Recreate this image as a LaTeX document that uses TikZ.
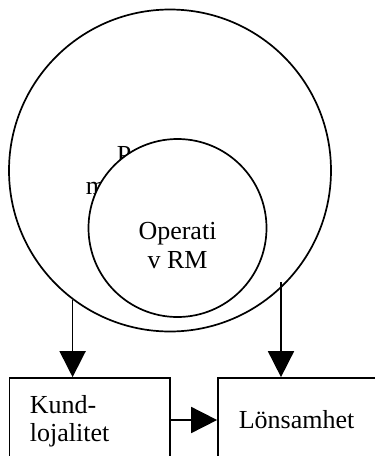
\documentclass[tikz,border=0pt]{standalone}
\usepackage{fontspec}
\setmainfont{Liberation Serif}
\usetikzlibrary{arrows.meta}
\begin{document}
\begin{tikzpicture}[x=1pt,y=-1pt,line width=1.7pt,
  txt/.style={font=\fontsize{26}{30}\selectfont,inner sep=0pt},
  ring/.style={draw,circle,inner sep=0pt},
  boxnode/.style={draw,rectangle,inner sep=0pt,minimum height=100pt},
  flow/.style={-{Triangle[length=26pt,width=26pt]}}]
\clip (0,0) rectangle (375,456);
% outer circle and its (partly covered) label
\node[ring,minimum size=322pt] (outer) at (170,170.5) {};
\node[txt,anchor=base west] (p) at (116,163) {P};
\node[txt,anchor=base west] (m) at (85,194) {m};
% inner circle drawn on top
\node[ring,fill=white,minimum size=178pt] (inner) at (177.5,228) {};
\node[txt,anchor=base] (op1) at (177.5,239) {Operati};
\node[txt,anchor=base] (op2) at (177.5,268.5) {v RM};
% boxes at the bottom
\node[boxnode,minimum width=160.7pt] (kund) at (89.7,428) {};
\node[txt,anchor=base west] (k1) at (29,413) {Kund-};
\node[txt,anchor=base west] (k2) at (29,441) {lojalitet};
\node[boxnode,minimum width=200pt] (lons) at (318,428) {};
\node[txt,anchor=base west] (l1) at (238,428) {Lönsamhet};
% connectors
\coordinate (rtop) at (281,282);
\coordinate (mid) at (0,420);
\draw[flow] (outer.233.3) -- (outer.233.3 |- kund.north);
\draw[flow] (rtop) -- (rtop |- lons.north);
\draw[flow] (kund.east |- mid) -- (lons.west |- mid);
\end{tikzpicture}
\end{document}
